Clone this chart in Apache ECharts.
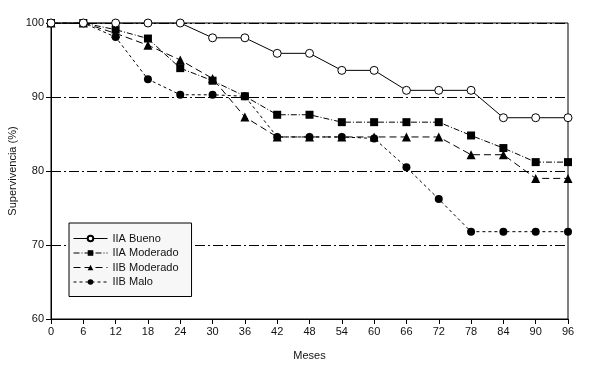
<!DOCTYPE html>
<html>
<head>
<meta charset="utf-8">
<script src="https://cdn.jsdelivr.net/npm/echarts@6/dist/echarts.min.js"></script>
<style>
  html, body { margin: 0; padding: 0; background: #fff; }
  #chart { width: 591px; height: 371px; }
</style>
</head>
<body>
<div id="chart"></div>
<script>
// meses
const meses = [0, 6, 12, 18, 24, 30, 36, 42, 48, 54, 60, 66, 72, 78, 84, 90, 96];

// supervivencia (%) por grupo
const iiaBueno    = [100, 100, 100, 100, 100, 98.0, 98.0, 95.9, 95.9, 93.6, 93.6, 90.9, 90.9, 90.9, 87.2, 87.2, 87.2];
const iiaModerado = [100, 100, 99.1, 97.9, 93.9, 92.2, 90.1, 87.6, 87.6, 86.6, 86.6, 86.6, 86.6, 84.8, 83.1, 81.2, 81.2];
const iibModerado = [100, 100, 98.6, 97.0, 95.0, 92.5, 87.3, 84.6, 84.6, 84.6, 84.6, 84.6, 84.6, 82.2, 82.2, 79.0, 79.0];
const iibMalo     = [100, 100, 98.1, 92.4, 90.3, 90.3, 90.1, 84.6, 84.6, 84.6, 84.4, 80.5, 76.2, 71.8, 71.8, 71.8, 71.8];

const yTicks = [60, 70, 80, 90, 100];

const font = "'Liberation Sans', Arial, sans-serif";

function pares(vals) {
  return meses.map((m, i) => [m, vals[i]]);
}

let myChart = echarts.init(document.getElementById('chart'));

myChart.setOption({
  animation: false,
  textStyle: { fontFamily: font },
  grid: {
    left: 51,
    right: 23,
    top: 23,
    bottom: 52,
    outerBoundsMode: 'none',
    show: true,
    borderColor: '#000',
    borderWidth: 1
  },
  legend: {
    orient: 'vertical',
    left: 69,
    top: 223,
    padding: [10, 13, 9, 4],
    itemGap: 3.5,
    itemWidth: 34,
    itemHeight: 7,
    lineStyle: { width: 1 },
    backgroundColor: '#f7f7f7',
    borderColor: '#000',
    borderWidth: 1,
    textStyle: { fontSize: 11, color: '#111', fontFamily: font },
    data: ['IIA Bueno', 'IIA Moderado', 'IIB Moderado', 'IIB Malo']
  },
  xAxis: {
    type: 'value',
    min: 0,
    max: 96,
    interval: 6,
    name: 'Meses',
    nameLocation: 'middle',
    nameGap: 31,
    nameMoveOverlap: false,
    nameTextStyle: { fontSize: 11, color: '#111' },
    axisLine: { lineStyle: { color: '#000', width: 1 } },
    axisTick: { length: 5, lineStyle: { color: '#000' } },
    axisLabel: { fontSize: 11, color: '#111', margin: 7 },
    splitLine: { show: false }
  },
  yAxis: {
    type: 'value',
    min: 60,
    max: 100,
    interval: 10,
    name: 'Supervivencia (%)',
    nameLocation: 'middle',
    nameGap: 33,
    nameMoveOverlap: false,
    nameTextStyle: { fontSize: 11, color: '#111' },
    axisLine: { show: true, lineStyle: { color: '#000', width: 1 } },
    axisTick: { show: true, length: 5, lineStyle: { color: '#000' } },
    axisLabel: {
      fontSize: 11, color: '#111', margin: 7,
      formatter: v => yTicks.includes(v) ? String(v) : ''
    },
    splitLine: {
      show: true,
      lineStyle: { color: '#000', width: 1, type: [10, 3, 2, 3] }
    }
  },
  series: [
    {
      name: 'IIA Bueno',
      type: 'line',
      data: pares(iiaBueno),
      symbol: 'circle',
      symbolSize: 8,
      z: 5,
      lineStyle: { color: '#000', width: 1, type: 'solid' },
      itemStyle: { color: '#fff', borderColor: '#000', borderWidth: 1 }
    },
    {
      name: 'IIA Moderado',
      type: 'line',
      data: pares(iiaModerado),
      symbol: 'rect',
      symbolSize: 8,
      z: 4,
      lineStyle: { color: '#000', width: 1, type: [6, 2, 1, 2] },
      itemStyle: { color: '#000' }
    },
    {
      name: 'IIB Moderado',
      type: 'line',
      data: pares(iibModerado),
      symbol: 'triangle',
      symbolSize: 9,
      z: 3,
      lineStyle: { color: '#000', width: 1, type: [7, 4] },
      itemStyle: { color: '#000' }
    },
    {
      name: 'IIB Malo',
      type: 'line',
      data: pares(iibMalo),
      symbol: 'circle',
      symbolSize: 8,
      z: 2,
      lineStyle: { color: '#000', width: 1, type: [3, 3] },
      itemStyle: { color: '#000' }
    }
  ]
});
</script>
</body>
</html>
